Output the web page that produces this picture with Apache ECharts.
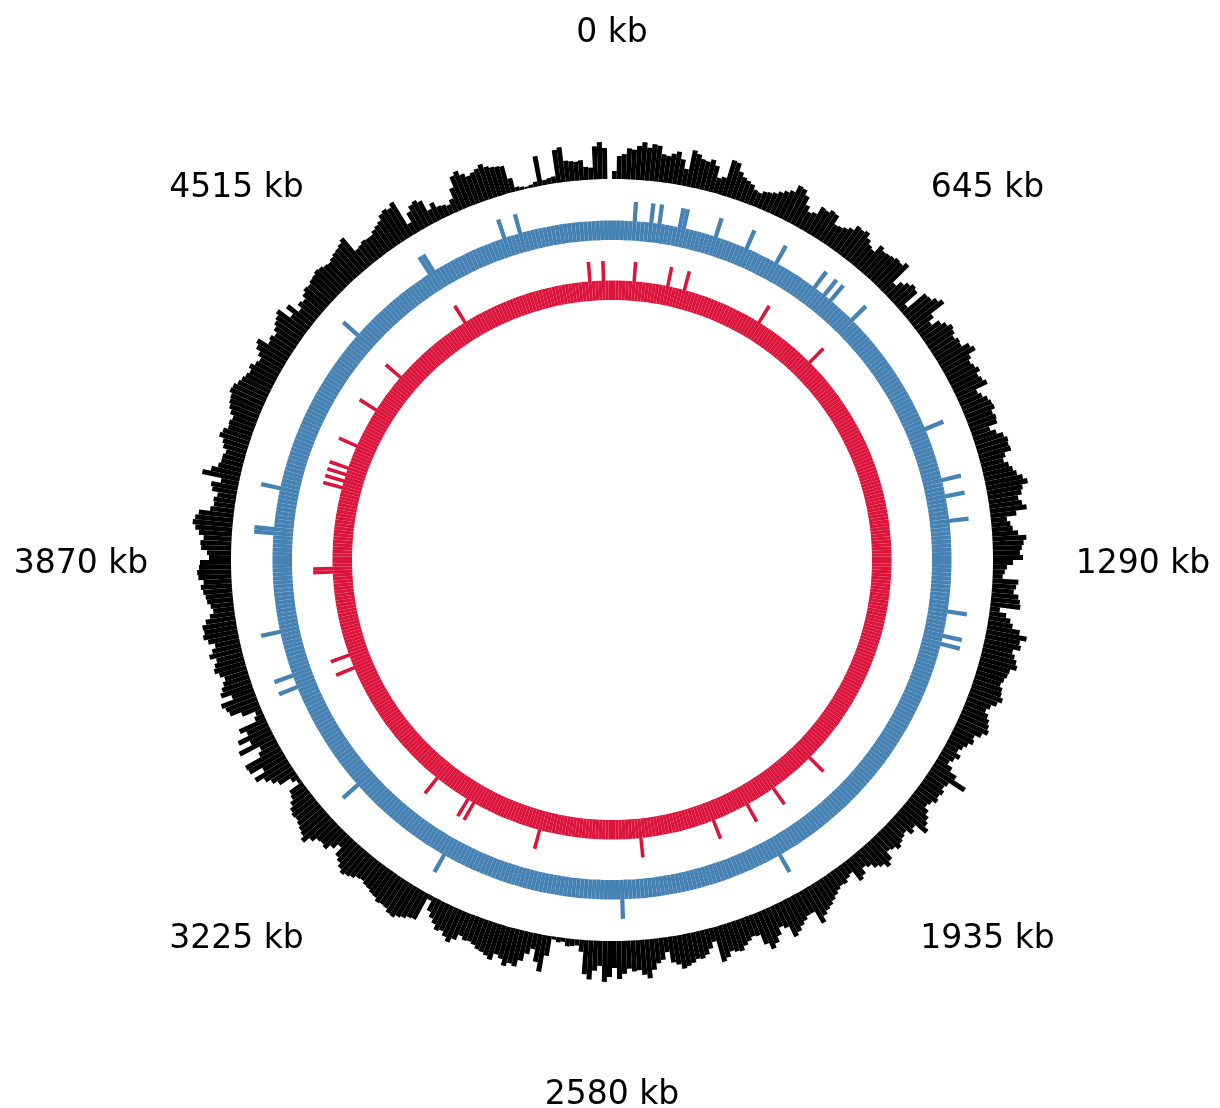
<!DOCTYPE html>
<html>
<head>
<meta charset="utf-8">
<script src="https://cdn.jsdelivr.net/npm/echarts@6/dist/echarts.min.js"></script>
<style>
html,body{margin:0;padding:0;background:#ffffff;}
#chart{width:1220px;height:1108px;}
</style>
</head>
<body>
<div id="chart"></div>
<script>
// ---- data ----
const genomeLengthKb = 5160;
const binSizeKb = 10;
const tickPositionsKb = [0, 645, 1290, 1935, 2580, 3225, 3870, 4515];
const tickLabels = ['0 kb', '645 kb', '1290 kb', '1935 kb', '2580 kb', '3225 kb', '3870 kb', '4515 kb'];

// outer black histogram, one value per 10 kb bin (516 bins)
const outerTrack = [
  8, 23, 25, 31, 30, 34, 38, 33, 37, 36, 28, 27,
  30, 33, 26, 17, 37, 34, 30, 29, 32, 27, 16, 18,
  37, 36, 28, 24, 22, 20, 16, 15, 18, 19, 21, 24,
  27, 30, 38, 37, 32, 24, 19, 21, 30, 29, 32, 31,
  22, 23, 25, 28, 34, 33, 35, 30, 26, 24, 33, 30,
  31, 32, 34, 33, 37, 14, 20, 24, 27, 25, 8, 30,
  31, 35, 39, 22, 16, 24, 28, 32, 30, 27, 30, 29,
  36, 39, 31, 28, 30, 33, 29, 31, 34, 21, 24, 28,
  30, 31, 27, 29, 28, 19, 24, 30, 33, 32, 33, 26,
  23, 27, 30, 33, 38, 42, 36, 34, 30, 33, 37, 26,
  16, 19, 21, 26, 34, 31, 29, 27, 30, 20, 14, 12,
  10, 26, 24, 22, 27, 29, 30, 10, 17, 22, 25, 33,
  41, 35, 37, 30, 33, 36, 38, 32, 31, 29, 27, 30,
  31, 34, 30, 25, 22, 26, 29, 31, 33, 28, 22, 24,
  20, 17, 14, 19, 15, 12, 18, 26, 40, 23, 21, 24,
  22, 24, 20, 18, 23, 27, 30, 35, 22, 25, 19, 21,
  23, 26, 22, 20, 28, 32, 27, 24, 19, 16, 22, 25,
  13, 15, 18, 17, 19, 22, 25, 28, 30, 33, 39, 25,
  25, 28, 31, 35, 38, 26, 23, 30, 36, 40, 33, 22,
  21, 24, 27, 31, 30, 28, 33, 36, 14, 20, 25, 28,
  27, 30, 32, 34, 29, 26, 15, 22, 25, 31, 39, 35,
  30, 31, 28, 33, 38, 27, 36, 41, 25, 30, 39, 34,
  12, 6, 7, 8, 4, 5, 3, 20, 37, 28, 16, 22,
  30, 37, 35, 39, 33, 30, 37, 34, 32, 31, 28, 26,
  27, 24, 30, 35, 31, 27, 29, 24, 20, 15, 5, 29,
  30, 33, 35, 38, 37, 34, 33, 34, 31, 30, 28, 27,
  25, 26, 29, 31, 33, 30, 26, 23, 14, 20, 26, 24,
  25, 30, 37, 33, 31, 29, 27, 28, 26, 22, 18, 16,
  4, 8, 20, 25, 30, 38, 26, 39, 40, 22, 18, 39,
  24, 35, 23, 29, 10, 7, 20, 31, 33, 36, 23, 33,
  30, 27, 24, 28, 32, 30, 27, 33, 29, 25, 31, 35,
  33, 34, 30, 25, 21, 23, 26, 27, 29, 31, 28, 33,
  34, 32, 31, 22, 24, 30, 31, 28, 33, 37, 40, 38,
  35, 24, 21, 22, 19, 25, 27, 18, 38, 30, 24, 22,
  22, 20, 24, 26, 31, 29, 25, 26, 24, 28, 31, 33,
  34, 37, 36, 33, 31, 29, 27, 30, 26, 24, 28, 33,
  36, 25, 27, 24, 28, 31, 33, 36, 22, 31, 19, 24,
  22, 26, 29, 28, 30, 31, 33, 32, 30, 29, 31, 33,
  34, 36, 39, 21, 22, 24, 23, 23, 26, 28, 30, 35,
  37, 35, 39, 12, 22, 27, 29, 26, 14, 19, 13, 12,
  10, 14, 24, 35, 38, 33, 29, 31, 33, 36, 32, 30,
  29, 28, 14, 4, 3, 2, 3, 5, 30, 5, 6, 7,
  33, 35, 21, 20, 19, 20, 13, 12, 33, 37, 31, 0
];

// feature positions (kb) on the blue and red tracks
const blueFeaturesKb = [55, 95, 115, 165, 175, 255, 335, 415, 525, 555, 575, 645, 965, 1095, 1135, 1195,
  1415, 1475, 1495, 2155, 2555, 3005, 3275, 3555, 3585, 3695, 3935, 3945, 4045, 4465, 4695, 4705, 4895, 4935];
const redFeaturesKb = [65, 165, 215, 455, 645, 1935, 2075, 2165, 2275, 2495, 2795, 3005, 3025, 3135, 3545,
  3585, 3835, 3845, 4085, 4105, 4125, 4145, 4215, 4335, 4455, 4705, 5095, 5135];
const trackBaseLevel = 1;
const featureLevel = 2;

// ---- build ----
const nBins = Math.round(genomeLengthKb / binSizeKb);
const bins = Array.from({length: nBins}, (_, i) => i);
function trackValues(featuresKb) {
  const v = bins.map(() => trackBaseLevel);
  featuresKb.forEach(kb => { v[Math.floor(kb / binSizeKb)] = featureLevel; });
  return v;
}
const blueTrack = trackValues(blueFeaturesKb);
const redTrack = trackValues(redFeaturesKb);

const C = [612, 560];
const hidden = {axisLine:{show:false}, axisTick:{show:false}, axisLabel:{show:false}, splitLine:{show:false}, splitArea:{show:false}};
function catAngle(idx) {
  return Object.assign({polarIndex: idx, type: 'category', data: bins, startAngle: 90, clockwise: true, boundaryGap: true}, hidden);
}
function valRadius(idx, max) {
  return Object.assign({polarIndex: idx, type: 'value', min: 0, max: max}, hidden);
}

const chart = echarts.init(document.getElementById('chart'), null, {renderer: 'canvas'});
chart.setOption({
  animation: false,
  backgroundColor: '#ffffff',
  polar: [
    {center: C, radius: [381, 423]},
    {center: C, radius: [320, 359]},
    {center: C, radius: [260, 299]},
    {center: C, radius: [0, 531]}
  ],
  angleAxis: [
    catAngle(0), catAngle(1), catAngle(2),
    Object.assign({polarIndex: 3, type: 'value', min: 0, max: genomeLengthKb, startAngle: 90, clockwise: true}, hidden)
  ],
  radiusAxis: [
    valRadius(0, 42), valRadius(1, 2), valRadius(2, 2), valRadius(3, 1)
  ],
  series: [
    {type: 'bar', coordinateSystem: 'polar', polarIndex: 0, data: outerTrack, barCategoryGap: '0%',
     itemStyle: {color: '#000000'}, silent: true},
    {type: 'bar', coordinateSystem: 'polar', polarIndex: 1, data: blueTrack, barCategoryGap: '0%',
     itemStyle: {color: '#4682B4'}, silent: true},
    {type: 'bar', coordinateSystem: 'polar', polarIndex: 2, data: redTrack, barCategoryGap: '0%',
     itemStyle: {color: '#DC143C'}, silent: true},
    {type: 'scatter', coordinateSystem: 'polar', polarIndex: 3, symbolSize: 1,
     itemStyle: {color: '#ffffff'}, silent: true,
     data: tickPositionsKb.map((p, i) => ({name: tickLabels[i], value: [1, p]})),
     label: {show: true, position: 'inside', offset: [0, 4], formatter: '{b}', color: '#000000', opacity: 1,
             textBorderWidth: 0, fontFamily: 'DejaVu Sans', fontSize: 33}}
  ]
});
</script>
</body>
</html>
